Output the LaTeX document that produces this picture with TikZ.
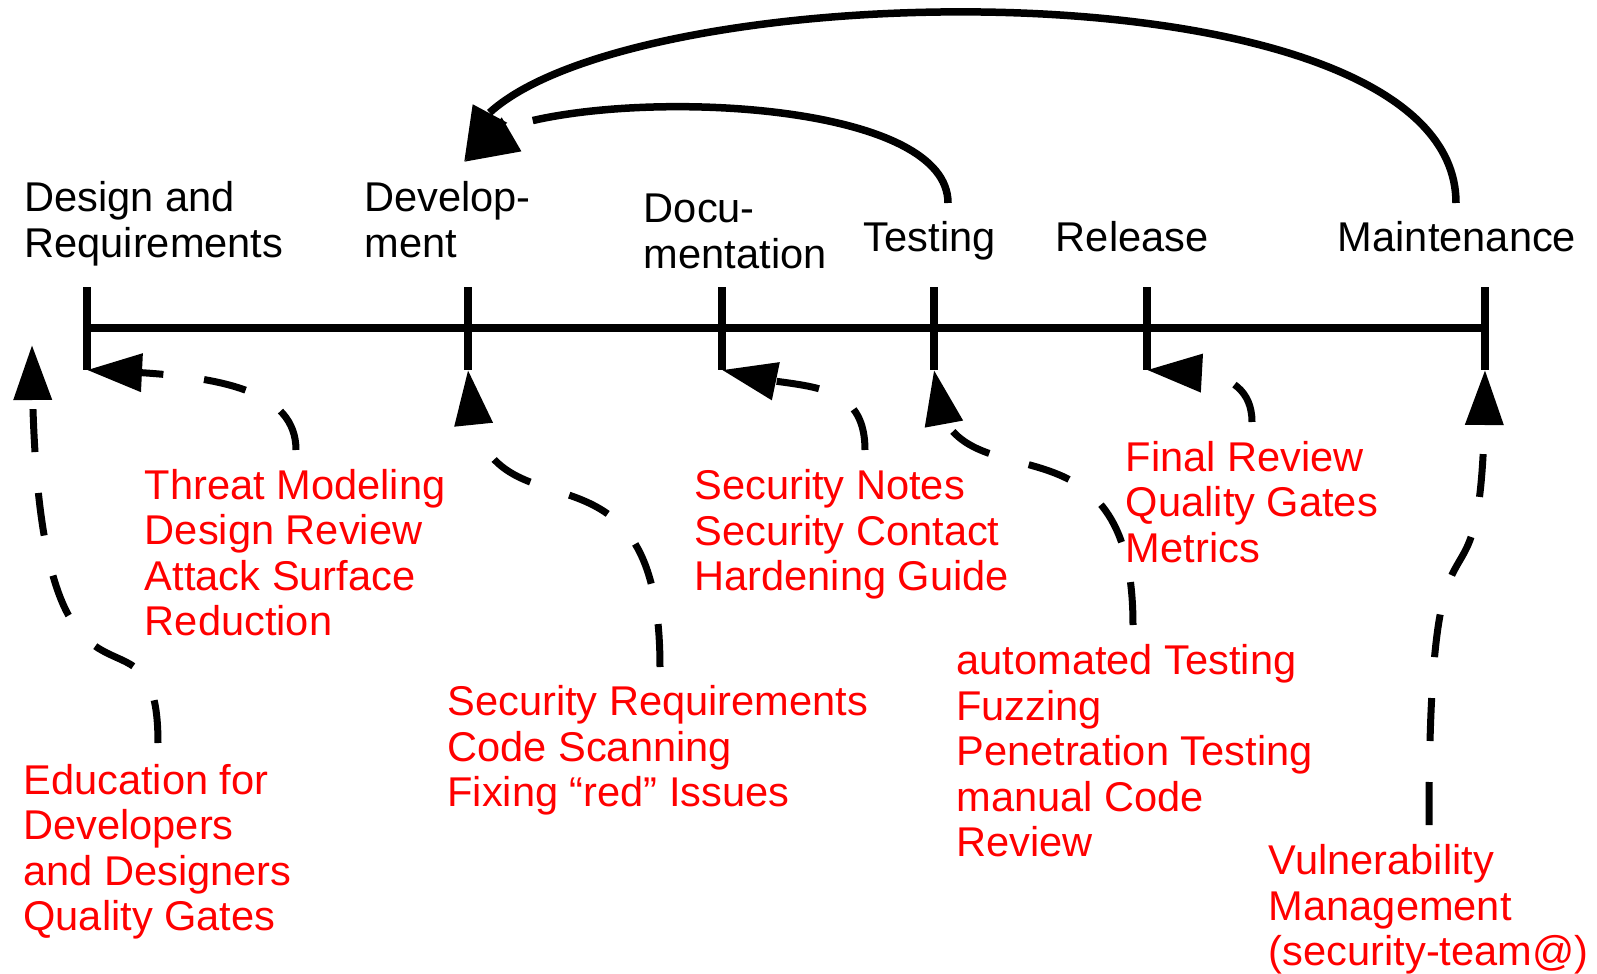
\documentclass[tikz,border=0pt]{standalone}
\usepackage{fontspec}
\setmainfont{Liberation Sans}
\usetikzlibrary{arrows.meta,bending}
% left-aligned multi-line label whose baseline is that of its first line
\newcommand{\lbl}[1]{\vtop{\baselineskip=22.8pt\lineskiplimit=-30pt\lineskip=0pt\halign{##\hfil\cr#1\crcr}}}

\begin{document}
\begin{tikzpicture}[x=0.5pt,y=-0.5pt,
  phase/.style={font=\fontsize{20.8pt}{22.8pt}\selectfont, text=black, inner sep=0pt, anchor=base west},
  task/.style={phase, text=red},
  axisline/.style={line width=4pt},
  tickmark/.style={line width=3.75pt},
  feedback/.style={line width=3.75pt, -{Triangle[length=27.5pt,width=18.5pt,flex]}},
  mapping/.style={line width=3.5pt, dash pattern=on 21.5pt off 20.5pt,
                  -{Triangle[length=27.5pt,width=18.5pt,flex]}}]

\useasboundingbox (0,0) rectangle (1597,974);

% phase names
\node[phase] (design) at (24,211.5) {\lbl{Design and\cr Requirements}};
\node[phase] (devel)  at (364,211.5) {\lbl{Develop-\cr ment}};
\node[phase] (docu)   at (643.5,222.5) {\lbl{Docu-\cr mentation}};
\node[phase] (test)   at (863.5,251) {\lbl{Testing}};
\node[phase] (rel)    at (1055.5,251) {\lbl{Release}};
\node[phase] (maint)  at (1337.5,251) {\lbl{Maintenance}};

% activities per phase
\node[task] (threat) at (144.5,499) {\lbl{Threat Modeling\cr Design Review\cr Attack Surface\cr Reduction}};
\node[task] (edu)    at (23,794) {\lbl{Education for\cr Developers\cr and Designers\cr Quality Gates}};
\node[task] (req)    at (447,715.5) {\lbl{Security Requirements\cr Code Scanning\cr Fixing “red” Issues}};
\node[task] (notes)  at (694,499.5) {\lbl{Security Notes\cr Security Contact\cr Hardening Guide}};
\node[task] (final)  at (1125.5,471) {\lbl{Final Review\cr Quality Gates\cr Metrics}};
\node[task] (auto)   at (956,674.5) {\lbl{automated Testing\cr Fuzzing\cr Penetration Testing\cr manual Code\cr Review}};
\node[task] (vuln)   at (1268.5,874.5) {\lbl{Vulnerability\cr Management\cr (security-team@)}};

% timeline ticks
\coordinate (dT) at (87,287);    \coordinate (dB) at (87,370);
\coordinate (vT) at (468,287);   \coordinate (vB) at (468,370);
\coordinate (cT) at (722,287);   \coordinate (cB) at (722,370);
\coordinate (tT) at (934,287);   \coordinate (tB) at (934,370);
\coordinate (rT) at (1147,287);  \coordinate (rB) at (1147,370);
\coordinate (mT) at (1485,287);  \coordinate (mB) at (1485,370);
\coordinate (axL) at (87,328);   \coordinate (axR) at (1485,328);

\draw[axisline] (axL) -- (axR);
\foreach \t in {d,v,c,t,r,m} \draw[tickmark] (\t T) -- (\t B);

% connector ends
\coordinate (eduTop)    at (158,743);
\coordinate (eduTip)    at (32,345);
\coordinate (threatTop) at (296,450);
\coordinate (reqTop)    at (660,667);
\coordinate (notesTop)  at (865,450);
\coordinate (autoTop)   at (1133,625);
\coordinate (finalTop)  at (1252,422);
\coordinate (vulnTop)   at (1429,825);
\coordinate (testTop)   at (948,203);
\coordinate (maintTop)  at (1456,203);
\coordinate (devTop)    at (464,162);

% activities to phases
\draw[mapping] (eduTop)    .. controls +(0,-174) and +(0,446) .. (eduTip);
\draw[mapping] (threatTop) .. controls +(0,-70) and +(103,4) .. (dB);
\draw[mapping] (reqTop)    .. controls +(0,-267) and +(0,200) .. (vB);
\draw[mapping] (notesTop)  .. controls +(0,-80) and +(63,22) .. (cB);
\draw[mapping] (autoTop)   .. controls +(0,-240) and +(0,156) .. (tB);
\draw[mapping] (finalTop)  .. controls +(0,-55) and +(40,0) .. (rB);
\draw[mapping] (vulnTop)   .. controls +(0,-400) and +(0,314) .. (mB);

% feedback loops back to development
\draw[feedback] (testTop)  .. controls +(0,-126) and +(0,-75) .. (devTop);
\draw[feedback] (maintTop) .. controls +(0,-269) and +(0,-186) .. (devTop);

\end{tikzpicture}
\end{document}
